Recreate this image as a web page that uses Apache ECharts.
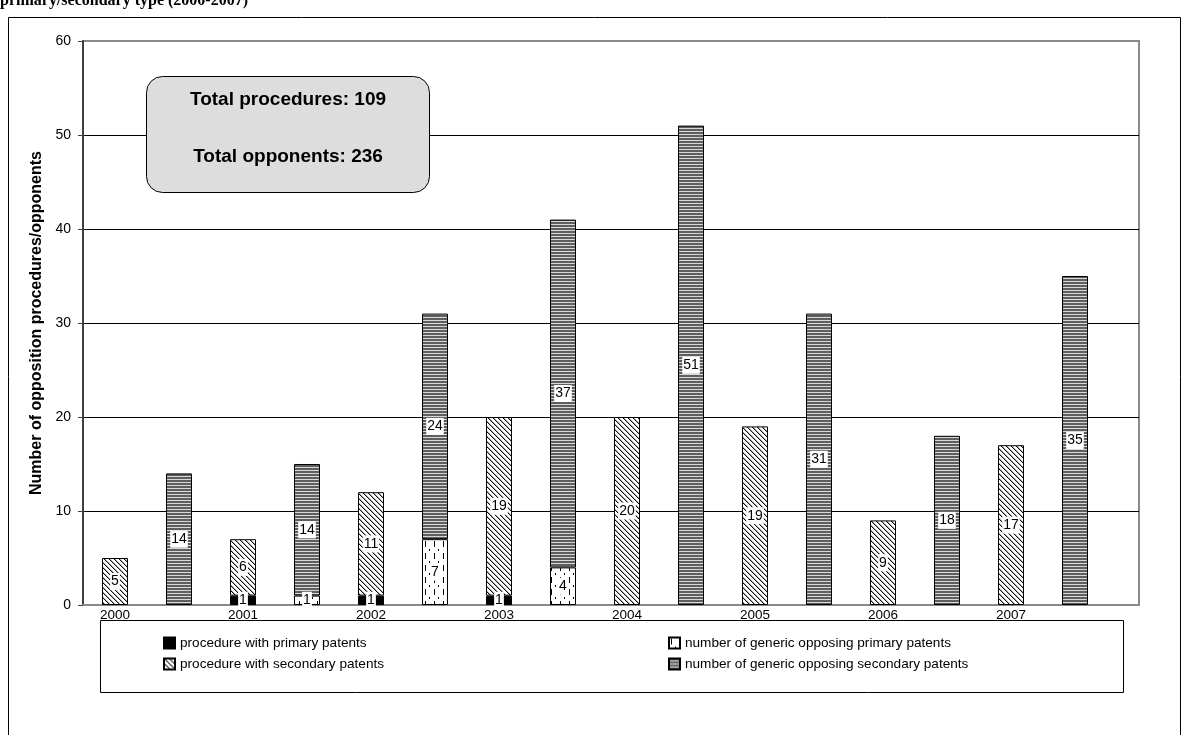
<!DOCTYPE html>
<html>
<head>
<meta charset="utf-8">
<script src="https://cdn.jsdelivr.net/npm/echarts@6/dist/echarts.min.js"></script>
<style>
html,body{margin:0;padding:0;background:#fff;}
#chart{width:1193px;height:735px;}
</style>
</head>
<body>
<div id="chart"></div>
<script>
// ---- data ----
const years = ['2000','2001','2002','2003','2004','2005','2006','2007'];
const procPrimary   = [0, 1, 1, 1, 0, 0, 0, 0];
const procSecondary = [5, 6, 11, 19, 20, 19, 9, 17];
const oppPrimary    = [0, 1, 7, 4, 0, 0, 0, 0];
const oppSecondary  = [14, 14, 24, 37, 51, 31, 18, 35];
const seriesNames = [
  'procedure with primary patents',
  'procedure with secondary patents',
  'number of generic opposing primary patents',
  'number of generic opposing secondary patents'
];
const yTicks = [0, 10, 20, 30, 40, 50, 60];
const boxLines = ['Total procedures: 109', 'Total opponents: 236'];
const titleText = 'primary/secondary type (2000-2007)';

// ---- patterns ----
function tile(w, h, draw) {
  const c = document.createElement('canvas');
  c.width = w; c.height = h;
  const g = c.getContext('2d');
  g.fillStyle = '#fff'; g.fillRect(0, 0, w, h);
  draw(g);
  return { image: c, repeat: 'repeat' };
}
const patSolid = '#000';
const patDiag = tile(5, 5, g => {
  for (let i = 0; i < 5; i++) {
    g.fillStyle = '#111'; g.fillRect(i, i, 1, 1);
    g.fillStyle = '#a8a8a8'; g.fillRect((i + 1) % 5, i, 1, 1);
  }
});
const patDash = tile(9, 12, g => {
  g.fillStyle = '#000';
  g.fillRect(2, 1, 1, 6);
  g.fillRect(6, 9, 1, 2);
});
const patHoriz = tile(4, 3, g => {
  g.fillStyle = '#5e5e5e'; g.fillRect(0, 0, 4, 2);
  g.fillStyle = '#d8d8d8'; g.fillRect(0, 2, 4, 1);
});

// ---- axis points: 4 points per year; procedures at 4i+1, opponents at 4i+3 ----
const nPoints = years.length * 4 + 2;
const axisCats = new Array(nPoints).fill('');
years.forEach((y, i) => { axisCats[i * 4 + 1] = y; });
function pointData(arr, offset) {
  const out = new Array(nPoints).fill('-');
  arr.forEach((v, i) => {
    out[i * 4 + offset] = v === 0
      ? {value: 0, label: {show: false}, itemStyle: {borderWidth: 0}}
      : v;
  });
  return out;
}

const labelStyle = {
  show: true, position: 'inside', color: '#000', fontSize: 14,
  fontFamily: 'Liberation Sans, Arial', backgroundColor: '#fff', padding: [2, 1, 1, 1]
};
function mkSeries(name, data, color) {
  return {
    name, type: 'bar', stack: 'all', barWidth: 26,
    data, itemStyle: {color, borderColor: '#000', borderWidth: 1},
    label: labelStyle, emphasis: {disabled: true}, animation: false
  };
}

const chart = echarts.init(document.getElementById('chart'), null, {renderer: 'canvas'});
const option = {
  animation: false,
  backgroundColor: '#fff',
  grid: {left: 83, right: 54, top: 41, bottom: 130, show: true, borderColor: '#8a8a8a', borderWidth: 2, backgroundColor: 'transparent'},
  xAxis: {
    type: 'category', data: axisCats, boundaryGap: false,
    axisLine: {show: true, lineStyle: {color: '#8a8a8a', width: 2}},
    axisTick: {show: false}, splitLine: {show: false},
    axisLabel: {show: true, interval: 0, color: '#000', fontSize: 13.5, fontFamily: 'Liberation Sans, Arial', margin: 3}
  },
  yAxis: {
    type: 'value', min: yTicks[0], max: yTicks[yTicks.length - 1], interval: 10,
    name: 'Number of opposition procedures/opponents', nameLocation: 'middle', nameGap: 36,
    nameTextStyle: {color: '#000', fontSize: 16, fontWeight: 'bold', fontFamily: 'Liberation Sans, Arial'},
    axisLine: {show: true, lineStyle: {color: '#404040', width: 2}},
    axisTick: {show: true, length: 5, lineStyle: {color: '#404040', width: 1}},
    axisLabel: {color: '#000', fontSize: 14, fontFamily: 'Liberation Sans, Arial', margin: 12},
    splitLine: {show: true, lineStyle: {color: ['#8a8a8a', '#000', '#000', '#000', '#000', '#000', '#8a8a8a'], width: 1}}
  },
  legend: [
    {data: [seriesNames[0], seriesNames[1]], orient: 'vertical', left: 158, top: 631,
     itemWidth: 11, itemHeight: 11, itemGap: 7, icon: 'rect',
     textStyle: {color: '#000', fontSize: 13.6, fontFamily: 'Liberation Sans, Arial'}},
    {data: [seriesNames[2], seriesNames[3]], orient: 'vertical', left: 663, top: 631,
     itemWidth: 11, itemHeight: 11, itemGap: 7, icon: 'rect',
     textStyle: {color: '#000', fontSize: 13.6, fontFamily: 'Liberation Sans, Arial'}}
  ],
  series: [
    mkSeries(seriesNames[0], pointData(procPrimary, 1), patSolid),
    mkSeries(seriesNames[1], pointData(procSecondary, 1), patDiag),
    mkSeries(seriesNames[2], pointData(oppPrimary, 3), patDash),
    mkSeries(seriesNames[3], pointData(oppSecondary, 3), patHoriz)
  ],
  graphic: [
    {type: 'rect', silent: true, z: -10, shape: {x: 8.5, y: 17.5, width: 1172, height: 800},
     style: {fill: 'none', stroke: '#000', lineWidth: 1}},
    {type: 'text', silent: true, left: 0, top: -7,
     style: {text: titleText, font: 'bold 16px "Liberation Serif", "Times New Roman", serif', fill: '#000'}},
    {type: 'rect', silent: true, z: 1, shape: {x: 100.5, y: 620.5, width: 1023, height: 72},
     style: {fill: '#fff', stroke: '#000', lineWidth: 1}},
    {type: 'rect', silent: true, z: 100, shape: {x: 146.5, y: 76.5, width: 283, height: 116, r: 16},
     style: {fill: '#dddddd', stroke: '#000', lineWidth: 1}},
    {type: 'text', silent: true, z: 101, x: 288, y: 100,
     style: {text: boxLines[0], font: 'bold 19px "Liberation Sans", Arial, sans-serif', fill: '#000', align: 'center', verticalAlign: 'middle'}},
    {type: 'text', silent: true, z: 101, x: 288, y: 157,
     style: {text: boxLines[1], font: 'bold 19px "Liberation Sans", Arial, sans-serif', fill: '#000', align: 'center', verticalAlign: 'middle'}}
  ]
};
chart.setOption(option);
</script>
</body>
</html>
